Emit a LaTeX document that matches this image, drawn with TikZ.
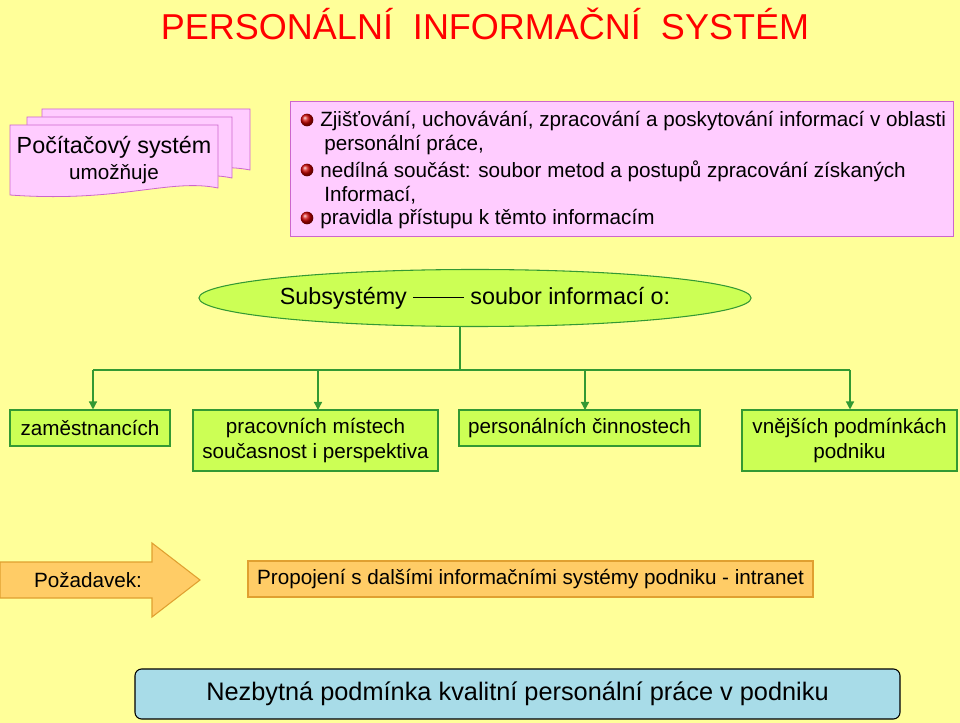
\documentclass[tikz,border=0pt]{standalone}
\usepackage{fontspec}
\setmainfont{Liberation Sans}
\usetikzlibrary{shapes.geometric,arrows.meta}
\definecolor{bg}{HTML}{FFFF99}
\definecolor{pinkf}{HTML}{FFCCFF}
\definecolor{pinkd}{HTML}{CC66CC}
\definecolor{limef}{HTML}{CCFF55}
\definecolor{grn}{HTML}{339933}
\definecolor{orf}{HTML}{FFCC66}
\definecolor{ord}{HTML}{E0A030}
\definecolor{bluf}{HTML}{A8DCE8}
\definecolor{titr}{HTML}{FF0000}
\definecolor{bul}{HTML}{CC0000}
\tikzset{
 doc/.style={draw=pinkd,fill=pinkf,line width=0.6pt},
 gbox/.style={draw=grn,fill=limef,line width=0.8pt,align=center,font=\fontsize{15.5}{19}\selectfont,inner sep=0pt},
 conn/.style={draw=grn,line width=1pt},
 garr/.style={conn,-{Triangle[length=6pt,width=6pt]}},
 bl/.style={circle,inner sep=0pt,minimum size=9.5pt,ball color=bul},
}
\begin{document}
\begin{tikzpicture}[x=0.75pt,y=-0.75pt]
\fill[bg] (0,0) rectangle (960,723);
\useasboundingbox (0,0) rectangle (960,723);
\node[text=titr,font=\fontsize{27}{30}\selectfont] (title) at (485,24) {PERSONÁLNÍ\ \ INFORMAČNÍ\ \ SYSTÉM};
% documents
\draw[doc] (42,177) -- (42,109) -- (250,109) -- (250,170) .. controls (200,160) and (150,185) .. (42,177) -- cycle;
\draw[doc] (27,185) -- (27,117) -- (232,117) -- (232,178) .. controls (185,168) and (135,193) .. (27,185) -- cycle;
\draw[doc] (10,195) -- (10,125) -- (218,125) -- (218,188) .. controls (170,178) and (120,203) .. (10,195) -- cycle;
\node[align=center,font=\fontsize{17.5}{20}\selectfont] (pc) at (114,160) {Počítačový systém\\[-1pt]{\fontsize{15.5}{18}\selectfont umožňuje}};
% bullets box
\node[draw=pinkd,fill=pinkf,line width=0.6pt,minimum width=663*0.75pt,minimum height=135*0.75pt] (ib) at (621.5,168.5) {};
\begin{scope}[font=\fontsize{15.5}{18}\selectfont]
\node[bl] (b1) at (307,120) {};
\node[anchor=west,inner sep=0pt] (t1) at (320,121) {Zjišťování, uchovávání, zpracování a poskytování informací v oblasti};
\node[anchor=west,inner sep=0pt] (t1b) at (324,145) {personální práce,};
\node[bl] (b2) at (307,170) {};
\node[anchor=west,inner sep=0pt] (t2) at (320,171) {nedílná součást: soubor metod a postupů zpracování získaných};
\node[anchor=west,inner sep=0pt] (t2b) at (324,195) {Informací,};
\node[bl] (b3) at (307,218) {};
\node[anchor=west,inner sep=0pt] (t3) at (320,219) {pravidla přístupu k těmto informacím};
\end{scope}
% ellipse
\node[ellipse,draw=grn,fill=limef,line width=0.8pt,minimum width=450*0.75pt,minimum height=57*0.75pt,inner sep=0pt,font=\fontsize{17.5}{20}\selectfont] (ell) at (475,298) {Subsystémy \rule[4.5pt]{38pt}{0.9pt} soubor informací o:};
% boxes
\node[gbox,minimum width=160*0.75pt,minimum height=36*0.75pt] (z) at (90,428) {zaměstnancích};
\node[gbox,minimum width=245*0.75pt,minimum height=61*0.75pt] (p) at (315.5,440.5) {pracovních místech\\současnost i perspektiva};
\node[gbox,minimum width=241*0.75pt,minimum height=36*0.75pt] (c) at (579.5,428) {personálních činnostech};
\node[gbox,minimum width=215*0.75pt,minimum height=61*0.75pt] (v) at (849.5,440.5) {vnějších podmínkách\\podniku};
\coordinate (j) at (460,370);
\coordinate (hl) at (93,370);
\coordinate (hr) at (850,370);
\draw[conn] (ell.south -| j) -- (j);
\draw[conn] (hl) -- (hr);
\draw[garr] (hl) -- (hl |- z.north);
\draw[garr] (318,370) -- (318,410);
\draw[garr] (585,370) -- (585,410);
\draw[garr] (hr) -- (hr |- v.north);
% requirement
\draw[draw=ord,fill=orf,line width=0.8pt] (0,562) -- (152,562) -- (152,543) -- (200,580) -- (152,617) -- (152,598) -- (0,598) -- cycle;
\node[font=\fontsize{15.5}{18}\selectfont] (reqt) at (88,580) {Požadavek:};
\node[draw=ord,fill=orf,line width=0.8pt,minimum width=565*0.75pt,minimum height=36*0.75pt,font=\fontsize{15.5}{18}\selectfont,inner sep=0pt] (prop) at (530.5,579) {Propojení s dalšími informačními systémy podniku - intranet};
% bottom
\node[draw=black,fill=bluf,rounded corners=5pt,line width=0.8pt,minimum width=765*0.75pt,minimum height=50*0.75pt,font=\fontsize{19}{22}\selectfont,inner sep=0pt] (nb) at (517.5,694) {Nezbytná podmínka kvalitní personální práce v podniku};
\end{tikzpicture}
\end{document}
